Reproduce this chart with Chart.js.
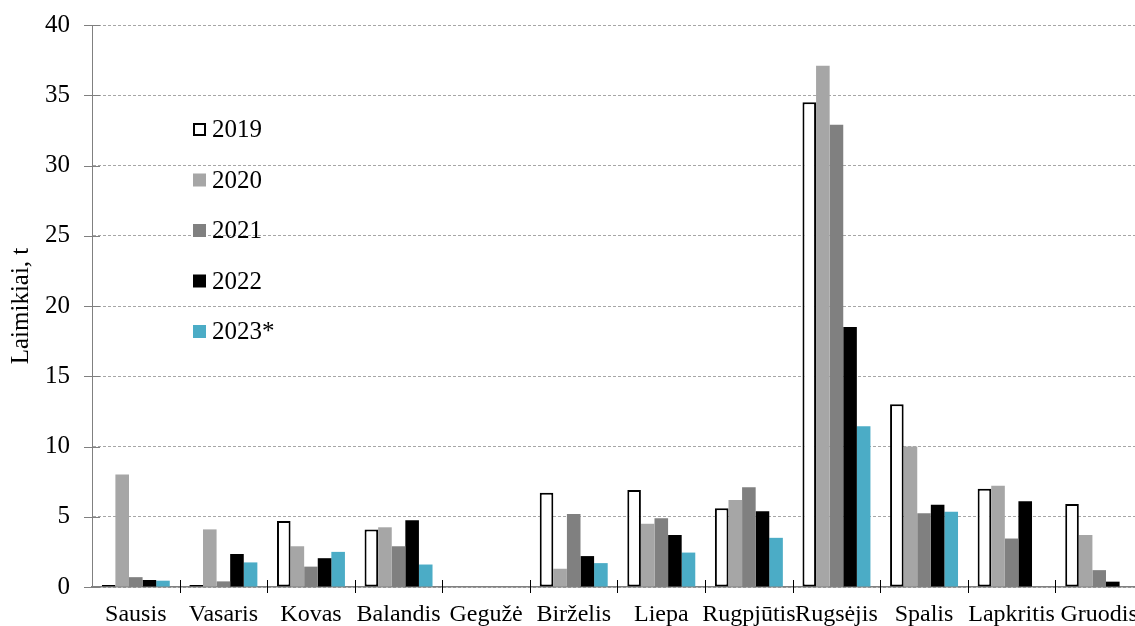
<!DOCTYPE html>
<html>
<head>
<meta charset="utf-8">
<script src="https://cdn.jsdelivr.net/npm/chart.js@4.4.0/dist/chart.umd.min.js"></script>
<style>
html,body{margin:0;padding:0;overflow:hidden;background:#fff;}
#wrap{position:absolute;left:0;top:0;width:1160px;height:640px;}
</style>
</head>
<body>
<div id="wrap"><canvas id="c" width="1160" height="640"></canvas></div>
<script>
const months = ["Sausis","Vasaris","Kovas","Balandis","Gegužė","Birželis","Liepa","Rugpjūtis","Rugsėjis","Spalis","Lapkritis","Gruodis"];
const years = ["2019","2020","2021","2022","2023*"];
const v2019 = [0.15, 0.15, 4.7, 4.1, null, 6.7, 6.9, 5.6, 34.5, 13.0, 7.0, 5.9];
const v2020 = [8.0, 4.1, 2.9, 4.25, null, 1.3, 4.5, 6.2, 37.1, 10.0, 7.2, 3.7];
const v2021 = [0.7, 0.4, 1.45, 2.9, null, 5.2, 4.9, 7.1, 32.9, 5.25, 3.45, 1.2];
const v2022 = [0.5, 2.35, 2.05, 4.75, null, 2.2, 3.7, 5.4, 18.5, 5.85, 6.1, 0.38];
const v2023 = [0.45, 1.75, 2.5, 1.6, null, 1.7, 2.45, 3.5, 11.45, 5.35, null, null];
const yTicks = [0, 5, 10, 15, 20, 25, 30, 35, 40];

const FONT = '"Liberation Serif", "Times New Roman", serif';
const fills = ['#ffffff', '#a6a6a6', '#808080', '#000000', '#4bacc6'];
const borders = ['#000000', '#a6a6a6', '#808080', '#000000', '#4bacc6'];
const series = [v2019, v2020, v2021, v2022, v2023];

const datasets = series.map((d, i) => ({
  label: years[i],
  data: d,
  backgroundColor: fills[i],
  borderColor: borders[i],
  borderWidth: i === 0 ? 2 : 0,
  borderSkipped: false,
  categoryPercentage: 0.776,
  barPercentage: 1.0
}));

const axisTicks = {
  id: 'axisTicks',
  afterDraw(chart) {
    const ctx = chart.ctx;
    const x = chart.scales.x, y = chart.scales.y;
    ctx.save();
    ctx.strokeStyle = '#7f7f7f';
    ctx.lineWidth = 1;
    y.ticks.forEach(t => {
      const py = Math.round(y.getPixelForValue(t.value)) + 0.5;
      ctx.beginPath();
      ctx.moveTo(x.left - 8, py);
      ctx.lineTo(x.left + 8, py);
      ctx.stroke();
    });
    const n = chart.data.labels.length;
    const step = x.getPixelForValue(1) - x.getPixelForValue(0);
    ctx.strokeStyle = '#000000';
    for (let i = 1; i <= n; i++) {
      const px = Math.round(x.getPixelForValue(i - 1) + step / 2) + 0.5;
      const base = y.getPixelForValue(0);
      ctx.beginPath();
      ctx.moveTo(px, base - 7);
      ctx.lineTo(px, base + 6);
      ctx.stroke();
    }
    ctx.restore();
  }
};

const floatLegend = {
  id: 'floatLegend',
  afterDraw(chart) {
    const ctx = chart.ctx;
    ctx.save();
    ctx.font = '25px ' + FONT;
    ctx.textBaseline = 'middle';
    ctx.textAlign = 'left';
    chart.data.datasets.forEach((ds, i) => {
      const cy = 129.5 + i * 50.5;
      const bx = 193, size = 13;
      ctx.fillStyle = ds.backgroundColor;
      ctx.fillRect(bx, cy - size / 2, size, size);
      if (ds.borderWidth > 0) {
        ctx.strokeStyle = ds.borderColor;
        ctx.lineWidth = 2;
        ctx.strokeRect(bx + 1, cy - size / 2 + 1, size - 2, size - 2);
      }
      ctx.fillStyle = '#000';
      ctx.fillText(ds.label, 212, cy + 1);
    });
    ctx.restore();
  }
};

new Chart(document.getElementById('c'), {
  type: 'bar',
  data: { labels: months, datasets },
  plugins: [axisTicks, floatLegend],
  options: {
    responsive: false,
    animation: false,
    devicePixelRatio: 1,
    layout: { padding: { top: 25, right: 17, bottom: 0, left: 0 } },
    plugins: { legend: { display: false }, tooltip: { enabled: false } },
    scales: {
      x: {
        grid: { display: false, drawTicks: false },
        border: { display: true, color: '#808080', width: 1.5 },
        ticks: {
          autoSkip: false, maxRotation: 0, minRotation: 0,
          padding: 13,
          color: '#000',
          font: { family: FONT, size: 24 }
        },
        afterFit(s) { s.height = 53; }
      },
      y: {
        min: 0, max: 40,
        afterBuildTicks(s) { s.ticks = yTicks.map(v => ({ value: v })); },
        grid: { color: '#a6a6a6', lineWidth: 1, drawTicks: true, tickLength: 22, tickColor: 'rgba(0,0,0,0)' },
        border: { display: true, color: '#808080', width: 1, dash: [3, 2] },
        ticks: {
          padding: 0,
          color: '#000',
          font: { family: FONT, size: 25 }
        },
        title: {
          display: true,
          text: 'Laimikiai, t',
          color: '#000',
          font: { family: FONT, size: 25 },
          padding: { top: 6, bottom: 0 }
        },
        afterFit(s) { s.width = 92; }
      }
    }
  }
});
</script>
</body>
</html>
